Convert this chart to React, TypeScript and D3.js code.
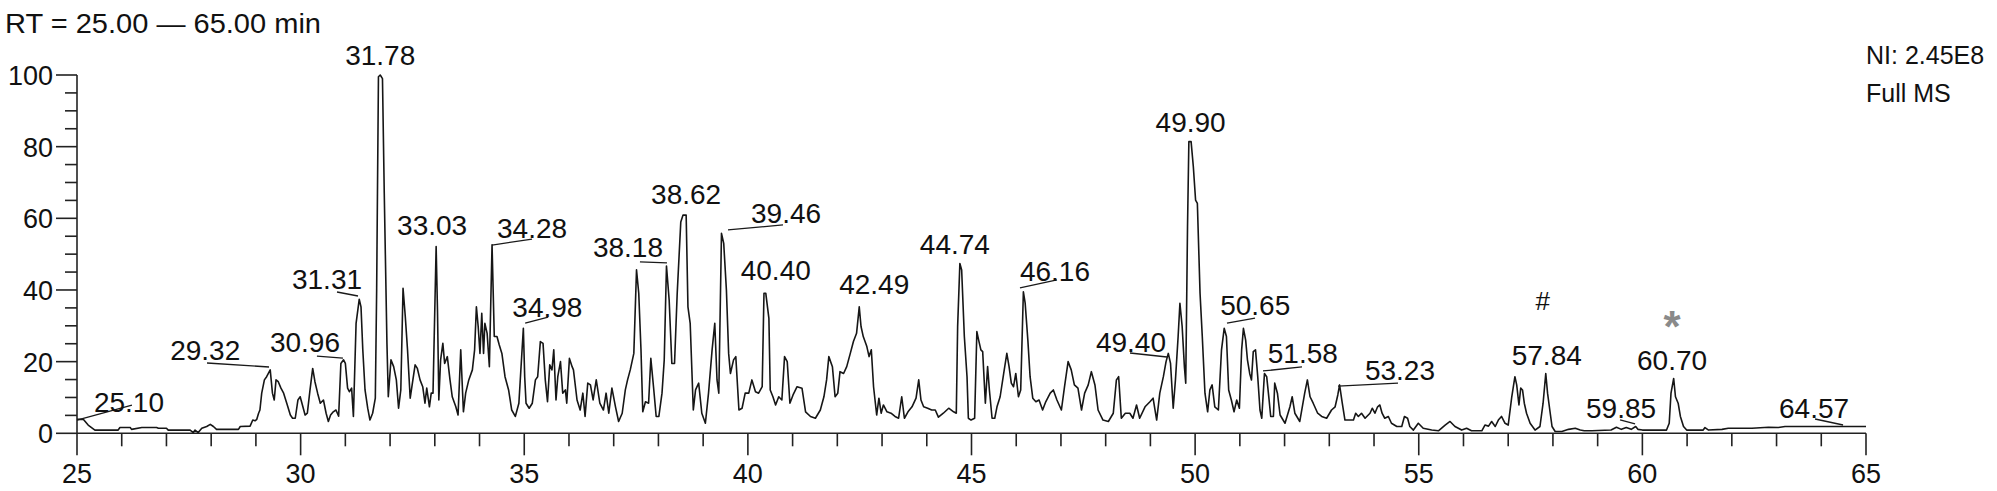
import React from "react";
import * as d3 from "d3";

// ---------- data ----------
const title = "RT = 25.00 \u2014 65.00 min";
const infoLines = ["NI: 2.45E8", "Full MS"];

const retentionTime = [
  25.0, 25.14, 25.25, 25.4, 25.92, 25.96, 26.19, 26.22, 26.45, 26.78, 26.82, 27.0, 27.04, 27.53, 27.6, 27.64, 27.71, 27.79, 27.9, 27.98,
  28.05, 28.12, 28.61, 28.65, 28.87, 28.93, 28.98, 29.02, 29.06, 29.09, 29.13, 29.19, 29.24, 29.32, 29.37, 29.41, 29.45, 29.5, 29.56, 29.62,
  29.69, 29.77, 29.82, 29.88, 29.94, 29.99, 30.04, 30.1, 30.15, 30.21, 30.27, 30.32, 30.38,
  30.44, 30.51, 30.57, 30.62, 30.67, 30.73, 30.79, 30.85, 30.9, 30.96, 31.0, 31.05, 31.09, 31.14, 31.18, 31.24, 31.31, 31.35, 31.39, 31.44,
  31.5, 31.55, 31.61, 31.67, 31.7, 31.74, 31.78, 31.83, 31.87, 31.93, 31.96, 32.02, 32.08, 32.14, 32.19, 32.24, 32.29, 32.34, 32.39, 32.45,
  32.51, 32.56, 32.61, 32.67, 32.73, 32.78, 32.82, 32.88, 32.92, 32.96, 33.03, 33.06, 33.09, 33.13, 33.18, 33.22, 33.28, 33.34, 33.39, 33.47,
  33.52, 33.58, 33.64, 33.69, 33.76, 33.84, 33.89, 33.93, 33.97, 34.01, 34.05, 34.09, 34.12, 34.17, 34.22, 34.28, 34.33, 34.39, 34.44, 34.5,
  34.57, 34.65, 34.72, 34.8, 34.88, 34.98, 35.01, 35.04, 35.11, 35.18, 35.25, 35.3, 35.36, 35.42, 35.47, 35.52, 35.57, 35.62, 35.66, 35.71,
  35.75, 35.81, 35.86, 35.92, 35.95, 36.01, 36.07,
  36.1, 36.18, 36.25, 36.31, 36.36, 36.42, 36.48, 36.54, 36.61, 36.69, 36.77, 36.83, 36.89, 36.96, 37.04, 37.11, 37.19, 37.26, 37.31, 37.37,
  37.45, 37.51, 37.56, 37.61, 37.65, 37.71, 37.78, 37.83, 37.89, 37.95, 38.01, 38.08, 38.13, 38.18, 38.24, 38.3, 38.36, 38.42, 38.5, 38.55,
  38.62, 38.66, 38.71, 38.78, 38.83, 38.9, 38.97, 39.05, 39.12, 39.2, 39.26, 39.31, 39.35, 39.41, 39.46, 39.52, 39.57, 39.61, 39.68, 39.73,
  39.8, 39.87, 39.94, 40.02, 40.09, 40.17, 40.24, 40.32, 40.36, 40.4, 40.47, 40.5, 40.56, 40.62, 40.69, 40.76, 40.82, 40.88, 40.94, 41.01,
  41.1, 41.21, 41.29, 41.4, 41.51, 41.62, 41.7, 41.76, 41.81,
  41.89, 41.95, 42.01, 42.06, 42.14, 42.21, 42.29, 42.36, 42.43, 42.49, 42.53, 42.58, 42.66, 42.71, 42.76, 42.81, 42.88, 42.93, 42.98, 43.03,
  43.11, 43.2, 43.29, 43.37, 43.44, 43.5, 43.58, 43.67, 43.76, 43.82, 43.87, 43.93, 44.02, 44.11, 44.19, 44.26, 44.37, 44.49, 44.6, 44.66,
  44.69, 44.74, 44.78, 44.84, 44.9, 44.93, 44.99, 45.07, 45.12, 45.16, 45.21, 45.25, 45.31, 45.36, 45.4, 45.46, 45.52, 45.57, 45.64, 45.72,
  45.79, 45.84, 45.89, 45.94, 45.99, 46.05, 46.1, 46.16, 46.2, 46.26, 46.31, 46.37, 46.44, 46.51, 46.59, 46.66, 46.76, 46.83, 46.91, 47.01,
  47.08, 47.16, 47.23, 47.3,
  47.38, 47.46, 47.53, 47.61, 47.68, 47.76, 47.83, 47.94, 48.06, 48.17, 48.24, 48.29, 48.35, 48.44, 48.54, 48.61, 48.69, 48.76, 48.88, 48.99,
  49.06, 49.14, 49.21, 49.29, 49.35, 49.4, 49.45, 49.51, 49.56, 49.62, 49.66, 49.71, 49.76, 49.79, 49.83, 49.86, 49.91, 49.96, 50.01, 50.05,
  50.11, 50.16, 50.22, 50.28, 50.33, 50.38, 50.44, 50.52, 50.59, 50.65, 50.7, 50.75, 50.81, 50.87, 50.93, 50.99, 51.04, 51.08, 51.13, 51.17,
  51.22, 51.26, 51.3, 51.35, 51.4, 51.45, 51.49, 51.55, 51.6, 51.65, 51.69, 51.75, 51.78, 51.84, 51.9, 52.01, 52.12, 52.17, 52.23, 52.34,
  52.45, 52.51, 52.57, 52.64, 52.74, 52.83, 52.94,
  53.05, 53.13, 53.19, 53.23, 53.29, 53.35, 53.46, 53.54, 53.59, 53.65, 53.72, 53.8, 53.91, 53.96, 54.02, 54.08, 54.13, 54.18, 54.24, 54.32,
  54.39, 54.51, 54.62, 54.68, 54.75, 54.8, 54.88, 54.99, 55.1, 55.29, 55.44, 55.59, 55.7, 55.81, 55.96, 56.07, 56.18, 56.41, 56.48, 56.56,
  56.63, 56.71, 56.78, 56.85, 56.93, 57.0, 57.08, 57.15, 57.19, 57.24, 57.28, 57.32, 57.36, 57.41, 57.49, 57.6, 57.71, 57.78, 57.84, 57.88,
  57.93, 57.98, 58.05, 58.2, 58.35, 58.5, 58.61,
  58.7, 58.87, 59.3, 59.42, 59.53, 59.64, 59.75, 59.85, 59.9, 60.0, 60.54, 60.6, 60.64, 60.7, 60.74, 60.8, 60.85, 60.92, 60.99, 61.36,
  61.4, 61.48, 61.78, 61.92, 62.15, 62.45, 62.82, 63.04, 63.19, 63.64, 64.02, 64.39, 65.0,
];

const relativeAbundance = [
  3.9, 3.9, 2.3, 0.9, 0.9, 1.6, 1.6, 1.1, 1.6, 1.6, 1.4, 1.4, 0.9, 0.9, 0.2, 0.9, 0.2, 1.4, 1.9, 2.5,
  1.9, 1.1, 1.1, 1.9, 2.0, 3.7, 3.5, 3.9, 5.6, 6.5, 11.2, 14.9, 15.8, 17.7, 11.2, 9.3, 14.9, 14.4, 12.6, 11.2,
  8.4, 5.1, 4.2, 4.2, 9.3, 10.2, 7.9, 5.1, 5.6, 12.1, 18.1, 14.4, 11.2,
  8.4, 9.3, 5.6, 3.3, 5.1, 6.0, 6.5, 4.8, 19.5, 20.5, 19.5, 12.6, 11.6, 12.6, 4.7, 30.7, 37.4, 35.3, 23.3, 12.1,
  7.0, 3.7, 5.6, 9.8, 40, 99.5, 100, 99, 67, 25.1, 10.2, 20.5, 18.6, 14.9, 7.0, 12.1, 40.5, 32.6, 23.3, 9.8,
  14.9, 19.1, 18.1, 14.9, 13.0, 8.4, 12.6, 7.4, 11.2, 11.2, 52.1, 34.4, 9.3, 20.5, 25.1, 19.5, 21.4, 14.9, 10.2, 7.4,
  5.1, 23.3, 6.0, 11.2, 14.9, 17.7, 23.3, 35.3, 29.8, 22.3, 33.5, 22.3, 30.7, 27.9, 18.6, 52.6, 27.0, 27.0, 24.7, 22.3,
  15.8, 12.1, 6.5, 4.7, 8.4, 29.3, 15.8, 8.4, 7.0, 8.4, 14.9, 15.8, 25.6, 25.1, 14.9, 8.8, 19.1, 17.7, 23.3, 9.3,
  15.8, 20.0, 11.2, 12.1, 8.4, 20.9, 18.6,
  17.7, 9.3, 6.5, 11.2, 4.7, 14.0, 13.5, 9.3, 14.9, 8.4, 6.5, 11.2, 5.6, 12.6, 7.4, 3.3, 5.6, 12.1, 14.9, 17.7,
  22.3, 45.6, 39.1, 23.3, 6.0, 8.8, 8.4, 20.9, 13.0, 4.7, 4.7, 11.2, 20.5, 46.7, 37.2, 19.5, 19.5, 39.1, 59.0, 60.9,
  60.9, 35.3, 30.7, 6.5, 12.1, 14.0, 5.6, 2.8, 11.2, 23.3, 30.7, 14.9, 11.2, 55.8, 53.0, 40.0, 22.3, 16.7, 20.5, 21.4,
  6.5, 7.0, 11.2, 11.2, 14.9, 11.6, 11.2, 13.0, 39.1, 39.1, 32.1, 12.1, 10.2, 7.9, 10.2, 9.3, 21.4, 20.0, 8.4, 10.7,
  13.0, 12.6, 6.0, 4.7, 4.2, 6.5, 10.2, 14.9, 21.4,
  18.6, 10.2, 11.2, 17.2, 16.7, 18.6, 22.3, 25.6, 27.9, 35.3, 29.8, 27.0, 24.2, 21.4, 23.3, 13.0, 5.1, 9.8, 5.6, 7.9,
  6.0, 5.6, 4.7, 4.2, 10.2, 4.2, 6.0, 7.4, 9.8, 14.9, 9.3, 7.4, 7.0, 6.5, 6.5, 4.5, 5.6, 7.0, 6.0, 5.6,
  29.8, 47.4, 45.6, 27.0, 15.8, 4.2, 3.7, 4.2, 28.4, 26.0, 23.3, 22.8, 8.4, 18.6, 12.1, 4.2, 4.2, 7.4, 10.2, 16.7,
  22.3, 18.6, 14.0, 13.0, 16.7, 10.2, 12.1, 39.5, 36.3, 26.0, 15.8, 9.8, 8.8, 9.3, 6.5, 8.8, 11.2, 12.1, 9.3, 6.5,
  13.0, 20.0, 17.7, 13.5,
  12.6, 6.5, 11.2, 13.5, 17.2, 13.5, 6.5, 3.7, 3.3, 5.6, 14.9, 15.8, 4.2, 5.6, 5.6, 4.2, 7.9, 4.2, 7.4, 8.8,
  9.8, 3.7, 11.2, 15.8, 20.0, 22.3, 19.5, 7.0, 14.9, 27.0, 36.3, 29.8, 18.6, 14.0, 57.7, 81.4, 81.4, 74.4, 65.1, 64.2,
  39.1, 27.0, 11.2, 6.0, 12.1, 13.5, 7.4, 6.5, 23.3, 29.3, 27.0, 12.1, 9.3, 6.0, 9.3, 7.0, 23.3, 29.3, 26.0, 20.5,
  16.7, 14.9, 22.8, 23.3, 15.8, 6.5, 4.2, 16.7, 15.8, 9.8, 4.7, 4.7, 14.0, 11.2, 5.1, 2.8, 7.4, 10.2, 5.6, 3.3,
  11.2, 14.9, 10.2, 8.4, 5.6, 4.7, 4.2,
  6.5, 7.4, 10.7, 13.5, 8.4, 3.7, 3.7, 3.7, 5.6, 4.7, 5.6, 4.2, 5.6, 7.0, 5.6, 7.4, 7.9, 5.6, 4.2, 4.7,
  2.8, 1.9, 1.9, 4.7, 4.2, 1.9, 0.9, 2.8, 1.4, 0.9, 0.7, 2.3, 3.3, 1.9, 0.9, 1.4, 0.7, 0.7, 2.3, 2.0,
  3.3, 1.9, 3.7, 4.7, 2.8, 2.3, 10.2, 15.8, 13.5, 7.9, 12.6, 12.1, 8.4, 5.6, 2.8, 0.9, 1.9, 8.4, 16.7, 11.2,
  6.5, 1.9, 0.5, 0.5, 1.1, 1.4, 0.9,
  0.7, 0.7, 0.9, 1.7, 1.1, 1.6, 1.1, 1.9, 1.1, 0.9, 0.9, 2.8, 11.2, 15.3, 10.2, 8.4, 4.7, 1.9, 0.9, 0.9,
  1.6, 0.9, 1.1, 1.4, 1.4, 1.4, 1.7, 1.6, 1.9, 1.9, 1.9, 1.9, 1.9,
];

const peakLabels = ["25.10", "29.32", "30.96", "31.31", "31.78", "33.03", "34.28", "34.98", "38.18", "38.62", "39.46", "40.40",
  "42.49", "44.74", "46.16", "49.40", "49.90", "50.65", "51.58", "53.23", "57.84", "59.85", "60.70", "64.57"];
const peakHeights = [3.9, 17.7, 20.5, 37.4, 100, 52.1, 52.1, 29.3, 46.7, 60.9, 55.8, 39.1,
  35.3, 47.4, 39.5, 22.3, 81.4, 29.3, 16.7, 13.5, 16.7, 1.9, 15.3, 1.9];

const markerSymbols = ["#", "*"];
const markerPeaks = ["57.84", "60.70"];

const xMajorTicks = [25, 30, 35, 40, 45, 50, 55, 60, 65];
const yMajorTicks = [0, 20, 40, 60, 80, 100];

// ---------- layout (pixel offsets of annotations, relative to the peak apex) ----------
const labelOffsets: Record<string, [number, number]> = {
  "25.10": [47.5, -7.3], "29.32": [-65, -10], "30.96": [-38.6, -7.8], "31.31": [-32.2, -10.3], "31.78": [0, -10],
  "33.03": [-4, -11.6], "34.28": [40, -8.6], "34.98": [24, -11.3], "38.18": [-38.5, -9], "38.62": [0, -11],
  "39.46": [62.3, -10.4], "40.40": [10, -13], "42.49": [15, -13], "44.74": [-5, -9.5], "46.16": [31.6, -10.8],
  "49.40": [-37.3, -1.4], "49.90": [0, -9.6], "50.65": [31, -13.3], "51.58": [37, -10.5], "53.23": [60.4, -5],
  "57.84": [1, -8.5], "59.85": [-14.6, -8.5], "60.70": [-1.6, -8.5], "64.57": [-32.7, -8.5],
};
const leaderOffsets: Record<string, [number, number, number, number]> = {
  "25.10": [-4.5, 0.7, 50.5, -14.3], "29.32": [-63.2, -6.9, -1.2, -2.9], "30.96": [-26.6, -3.8, -0.6, -1.8],
  "31.31": [-22.2, -7.3, -1.2, -3.3], "34.28": [0, -1.6, 40, -7.6], "34.98": [1.8, -5.3, 24.8, -11.3],
  "38.18": [-26.5, -4, 0.5, -3], "39.46": [4.3, -3.4, 59.3, -8.4], "46.16": [-3.4, -3.8, 33.6, -11.8],
  "49.40": [-38.3, -0.4, -1.3, 3.6], "50.65": [2.8, -5.3, 30.8, -10.3], "51.58": [-2.8, -2.5, 36.2, -6.5],
  "53.23": [-1.6, 1.1, 58.4, -1.9], "59.85": [-15.6, -6.5, -0.6, -2.5], "64.57": [-31.7, -7.5, -3.7, -1.5],
};
// baseline offsets of the marker symbols
const markerOffsets: Record<string, [number, number]> = { "#": [-3, -63.5], "*": [-1.6, -36] };

const W = 1997;
const H = 491;
const FONT = "'Liberation Sans', Arial, Helvetica, sans-serif";
const INK = "#111";

export default function App() {
  const x = d3.scaleLinear().domain([25, 65]).range([77, 1866]);
  const y = d3.scaleLinear().domain([0, 100]).range([433.3, 75]);

  const pts: [number, number][] = retentionTime.map((t, i) => [t, relativeAbundance[i]]);
  const line = d3.line<[number, number]>().x((d) => x(d[0])).y((d) => y(d[1]));

  const xMinor = d3.range(25, 66, 1);
  const yMinor = d3.range(0, 101, 5);

  const apex = (lab: string) => {
    const k = peakLabels.indexOf(lab);
    return [x(parseFloat(lab)), y(peakHeights[k])];
  };

  return (
    <svg width={W} height={H} style={{ position: "absolute", left: 0, top: 0, background: "#fff" }} fontFamily={FONT}>
      <rect x={0} y={0} width={W} height={H} fill="#fff" />
      <text x={5} y={33} fontSize={27} fill={INK} textLength={316} lengthAdjust="spacingAndGlyphs">{title}</text>
      <text x={1866} y={64} fontSize={25} fill={INK}>{infoLines[0]}</text>
      <text x={1866} y={102} fontSize={25} fill={INK}>{infoLines[1]}</text>

      {/* axes */}
      <g stroke="#222" strokeWidth={1.6} fill="none">
        <line x1={x(25)} x2={x(25)} y1={y(100)} y2={y(0)} />
        <line x1={x(25)} x2={x(65)} y1={y(0)} y2={y(0)} />
        {xMinor.map((v) => (
          <line key={"xt" + v} x1={x(v)} x2={x(v)} y1={y(0)} y2={y(0) + (v % 5 === 0 ? 22 : 13)} />
        ))}
        {yMinor.map((v) => (
          <line key={"yt" + v} x1={x(25)} x2={x(25) - (v % 20 === 0 ? 21 : 12)} y1={y(v)} y2={y(v)} />
        ))}
      </g>
      {xMajorTicks.map((v) => (
        <text key={"xl" + v} x={x(v)} y={483} fontSize={27} textAnchor="middle" fill={INK}>{v}</text>
      ))}
      {yMajorTicks.map((v) => (
        <text key={"yl" + v} x={53} y={y(v) + 10} fontSize={27} textAnchor="end" fill={INK}>{v}</text>
      ))}

      {/* chromatogram */}
      <path d={line(pts) || ""} fill="none" stroke="#161616" strokeWidth={1.6} strokeLinejoin="round" />

      {/* leaders */}
      <g stroke="#1a1a1a" strokeWidth={1.3}>
        {Object.keys(leaderOffsets).map((lab) => {
          const [ax, ay] = apex(lab);
          const o = leaderOffsets[lab];
          return <line key={"ld" + lab} x1={ax + o[0]} y1={ay + o[1]} x2={ax + o[2]} y2={ay + o[3]} />;
        })}
      </g>

      {/* peak labels */}
      {peakLabels.map((lab) => {
        const [ax, ay] = apex(lab);
        const o = labelOffsets[lab];
        return (
          <text key={"pl" + lab} x={ax + o[0]} y={ay + o[1]} fontSize={28} textAnchor="middle" fill={INK}>{lab}</text>
        );
      })}

      {markerSymbols.map((s, i) => {
        const [ax, ay] = apex(markerPeaks[i]);
        const o = markerOffsets[s];
        return s === "*" ? (
          <text key={"mk" + s} x={ax + o[0]} y={ay + o[1]} fontSize={44} fontWeight="bold" textAnchor="middle" fill="#8a8a8a">{s}</text>
        ) : (
          <text key={"mk" + s} x={ax + o[0]} y={ay + o[1]} fontSize={26} textAnchor="middle" fill={INK}>{s}</text>
        );
      })}
    </svg>
  );
}
